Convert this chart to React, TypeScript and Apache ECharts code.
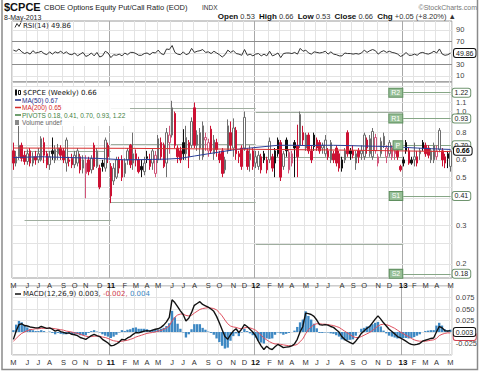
import React, { useEffect, useRef } from 'react';
import * as echarts from 'echarts';

// ---------- data ----------
const startWeek = '2010-05-03';

// weekly candles: [open, close, low, high]
const candles: number[][] = [
  [0.66,0.58,0.54,0.72],[0.58,0.62,0.56,0.66],[0.62,0.70,0.60,0.87],[0.70,0.61,0.59,0.72],[0.63,0.59,0.57,0.66],[0.59,0.64,0.57,0.67],[0.66,0.58,0.56,0.68],[0.58,0.62,0.56,0.65],[0.62,0.60,0.57,0.66],[0.60,0.64,0.58,0.68],
  [0.60,0.75,0.59,0.77],[0.72,0.63,0.58,0.76],[0.64,0.57,0.55,0.66],[0.57,0.62,0.54,0.66],[0.66,0.64,0.60,0.76],[0.60,0.67,0.58,0.70],[0.64,0.68,0.60,0.71],[0.68,0.63,0.60,0.70],[0.66,0.60,0.58,0.68],[0.58,0.74,0.53,0.76],
  [0.60,0.59,0.56,0.62],[0.61,0.57,0.55,0.64],[0.57,0.63,0.55,0.66],[0.58,0.66,0.56,0.68],[0.62,0.54,0.52,0.64],[0.55,0.60,0.52,0.63],[0.52,0.58,0.40,0.63],[0.60,0.53,0.51,0.62],[0.54,0.61,0.52,0.63],[0.70,0.56,0.54,0.72],
  [0.56,0.66,0.55,0.68],[0.55,0.45,0.44,0.57],[0.58,0.56,0.53,0.60],[0.55,0.74,0.53,0.76],[0.70,0.62,0.58,0.72],[0.56,0.41,0.38,0.58],[0.48,0.55,0.46,0.58],[0.50,0.60,0.49,0.62],[0.60,0.55,0.52,0.62],[0.60,0.50,0.48,0.63],
  [0.52,0.58,0.50,0.61],[0.60,0.66,0.57,0.68],[0.70,0.57,0.55,0.71],[0.58,0.64,0.54,0.80],[0.64,0.60,0.56,0.67],[0.60,0.53,0.52,0.62],[0.56,0.54,0.50,0.60],[0.53,0.58,0.51,0.62],[0.62,0.61,0.58,0.66],[0.60,0.56,0.54,0.64],
  [0.58,0.66,0.54,0.68],[0.52,0.63,0.50,0.66],[0.60,0.75,0.58,0.78],[0.72,0.62,0.60,0.76],[0.70,0.56,0.55,0.72],[0.58,0.80,0.50,0.84],[0.72,0.78,0.64,0.86],[0.78,1.04,0.76,1.12],[0.98,0.70,0.68,1.00],[0.68,0.62,0.58,0.70],
  [0.66,0.60,0.58,0.69],[0.72,0.64,0.60,0.83],[0.64,0.76,0.60,0.86],[0.72,0.62,0.55,0.74],[0.70,0.90,0.68,0.94],[1.04,0.70,0.68,1.10],[0.70,0.78,0.66,0.82],[0.68,0.80,0.60,0.84],[0.62,0.86,0.60,0.90],[0.74,0.76,0.66,0.80],
  [0.66,0.72,0.62,0.75],[0.83,0.66,0.64,0.86],[0.64,0.74,0.60,0.78],[0.72,0.67,0.62,0.75],[0.64,0.60,0.58,0.66],[0.66,0.52,0.50,0.68],[0.54,0.60,0.52,0.62],[0.66,0.86,0.64,0.92],[0.80,0.70,0.66,0.90],[0.68,0.84,0.62,0.93],
  [0.82,0.64,0.60,0.85],[0.64,0.62,0.58,0.66],[0.68,0.56,0.54,0.70],[0.68,0.94,0.66,1.00],[0.66,0.56,0.54,0.68],[0.60,0.64,0.53,0.70],[0.66,0.56,0.54,0.68],[0.58,0.62,0.55,0.66],[0.56,0.63,0.54,0.66],[0.62,0.54,0.52,0.64],
  [0.64,0.60,0.58,0.66],[0.60,0.54,0.52,0.62],[0.60,0.73,0.58,0.76],[0.62,0.55,0.53,0.64],[0.66,0.58,0.50,0.68],[0.74,0.64,0.62,0.76],[0.72,0.50,0.48,0.74],[0.56,0.64,0.54,0.66],[0.74,0.66,0.62,0.76],[0.54,0.65,0.52,0.67],
  [0.58,0.64,0.56,0.66],[0.72,0.68,0.50,0.74],[0.70,0.62,0.50,0.87],[0.70,0.97,0.68,1.00],[0.80,0.74,0.70,0.86],[0.68,0.78,0.66,0.80],[0.78,0.66,0.64,0.80],[0.66,0.60,0.58,0.70],[0.78,0.69,0.66,0.80],[0.74,0.68,0.66,0.76],
  [0.72,0.66,0.64,0.74],[0.68,0.70,0.64,0.72],[0.64,0.74,0.62,0.78],[0.66,0.62,0.60,0.68],[0.60,0.72,0.58,0.74],[0.64,0.60,0.58,0.66],[0.68,0.58,0.56,0.70],[0.64,0.55,0.53,0.66],[0.60,0.55,0.53,0.62],[0.60,0.66,0.58,0.68],
  [0.80,0.64,0.62,0.82],[0.66,0.64,0.60,0.68],[0.66,0.63,0.61,0.70],[0.58,0.64,0.54,0.66],[0.66,0.62,0.58,0.68],[0.64,0.66,0.60,0.70],[0.62,0.78,0.60,0.80],[0.74,0.68,0.64,0.76],[0.64,0.75,0.62,0.78],[0.62,0.81,0.60,0.84],
  [0.66,0.76,0.64,0.79],[0.58,0.62,0.56,0.64],[0.64,0.73,0.62,0.76],[0.70,0.77,0.68,0.80],[0.62,0.68,0.58,0.70],[0.64,0.72,0.62,0.74],[0.62,0.68,0.60,0.70],[0.64,0.66,0.60,0.68],[0.66,0.62,0.60,0.68],[0.56,0.54,0.53,0.57],
  [0.60,0.58,0.56,0.62],[0.72,0.66,0.64,0.74],[0.66,0.58,0.57,0.68],[0.60,0.58,0.57,0.62],[0.60,0.62,0.56,0.72],[0.62,0.58,0.56,0.66],[0.64,0.66,0.60,0.68],[0.72,0.68,0.66,0.74],[0.70,0.64,0.62,0.72],[0.68,0.63,0.61,0.70],
  [0.60,0.66,0.58,0.68],[0.60,0.70,0.58,0.72],[0.62,0.66,0.60,0.70],[0.67,0.82,0.65,0.84],[0.66,0.60,0.56,0.68],[0.62,0.58,0.55,0.64],[0.64,0.61,0.55,0.66],[0.56,0.66,0.53,0.66],
];

// moving averages read at sample weeks: [weekIndex, value]
const ma50: number[][] = [[0,0.615],[10,0.62],[20,0.615],[30,0.61],[40,0.60],[50,0.603],[55,0.605],[60,0.61],[65,0.625],[70,0.64],[75,0.655],[80,0.67],[85,0.68],[90,0.69],[95,0.70],[100,0.70],[105,0.698],[110,0.70],[115,0.70],[120,0.698],[125,0.695],[130,0.693],[135,0.69],[140,0.685],[145,0.68],[150,0.675],[157,0.67]];
const ma200: number[][] = [[0,0.68],[40,0.678],[80,0.672],[120,0.665],[157,0.655]];

// yearly pivot segments: [startWeek, endWeek]
const pivotSpans: number[][] = [[4, 35], [35, 87], [87, 140], [140, 157]];
const pivots2010 = [0.318, 0.66];
const pivots2011 = [0.385, 0.71, 1.035];
const pivots2012 = [0.247, 0.6175, 0.988];
const pivots2013 = [0.18, 0.41, 0.70, 0.93, 1.22];
const pivotNames2013 = ['S2', 'S1', 'P', 'R1', 'R2'];

const priceTicks = [0.2, 0.3, 0.5, 0.6, 0.8, 1.0, 1.1];
const priceGrid = [0.2, 0.25, 0.3, 0.35, 0.4, 0.45, 0.5, 0.6, 0.7, 0.8, 0.9, 1.0, 1.1, 1.2, 1.3];
const lastClose = 0.66;

const rsi: number[] = [
  55,53,57,52,49,51,48,54,50,51,
  53,49,47,52,48,52,50,53,49,52,
  48,47,50,45,48,51,44,46,50,45,
  51,43,45,53,50,42,47,46,48,45,
  50,47,51,51,49,46,46,49,50,47,
  51,50,55,49,47,57,56,63,51,48,
  47,52,47,49,58,51,53,54,56,51,
  52,49,53,50,47,43,47,55,51,54,
  49,48,46,56,46,48,45,48,49,45,
  48,45,53,45,47,50,42,49,50,50,
  49,51,48,58,53,55,50,48,52,51,
  50,51,53,48,52,48,47,45,45,50,
  49,49,48,49,48,50,55,51,54,56,
  54,48,52,54,51,53,51,50,48,44,
  46,51,46,46,48,46,50,51,49,48,
  50,53,50,57,48,46,47,49.86,
];
const rsiTicks = [10, 30, 70, 90];

const macd: number[] = [
  -0.016,0.002,0.016,0.018,0.014,0.013,0.011,0.010,0.009,0.009,
  0.012,0.010,0.008,0.009,0.006,0.002,0.004,0.001,-0.001,-0.003,
  -0.002,-0.005,-0.006,-0.008,-0.012,-0.014,-0.016,-0.012,-0.008,-0.005,
  -0.008,-0.010,-0.016,-0.020,-0.024,-0.030,-0.029,-0.026,-0.022,-0.016,
  -0.017,-0.013,-0.010,-0.005,-0.001,-0.002,0.000,0.002,0.003,0.002,
  0.004,0.006,0.007,0.010,0.015,0.022,0.032,0.070,0.064,0.055,
  0.046,0.038,0.024,0.030,0.042,0.058,0.062,0.066,0.060,0.057,
  0.054,0.050,0.045,0.034,0.020,0.005,-0.010,-0.016,-0.006,0.002,
  0.007,-0.001,0.006,0.016,0.012,0.006,0.000,-0.008,-0.020,-0.030,
  -0.038,-0.031,-0.036,-0.038,-0.032,-0.027,-0.030,-0.034,-0.033,-0.032,
  -0.030,-0.026,-0.016,0.000,0.012,0.041,0.040,0.038,0.034,0.026,
  0.016,0.015,0.016,0.015,0.012,0.010,0.005,0.000,-0.010,-0.016,
  -0.020,-0.023,-0.026,-0.020,-0.012,-0.003,0.002,0.008,0.012,0.020,
  0.028,0.035,0.028,0.020,0.013,0.006,0.001,-0.004,-0.010,-0.013,
  -0.016,-0.020,-0.024,-0.027,-0.028,-0.027,-0.025,-0.020,-0.018,-0.016,
  -0.014,-0.013,0.000,0.012,0.009,0.003,0.002,0.003,
];
const signal: number[] = [
  -0.020,-0.014,-0.008,-0.003,0.000,0.003,0.005,0.006,0.007,0.007,
  0.008,0.008,0.008,0.008,0.008,0.007,0.006,0.005,0.004,0.002,
  0.001,0.000,-0.002,-0.003,-0.005,-0.007,-0.009,-0.010,-0.010,-0.009,
  -0.009,-0.009,-0.011,-0.012,-0.014,-0.017,-0.019,-0.020,-0.021,-0.020,
  -0.019,-0.018,-0.016,-0.014,-0.011,-0.009,-0.007,-0.005,-0.003,-0.002,
  -0.001,0.000,0.002,0.003,0.006,0.009,0.013,0.024,0.032,0.037,
  0.039,0.039,0.036,0.035,0.036,0.041,0.045,0.049,0.051,0.052,
  0.053,0.052,0.051,0.048,0.042,0.035,0.026,0.018,0.013,0.011,
  0.010,0.008,0.007,0.009,0.010,0.009,0.007,0.004,-0.001,-0.007,
  -0.013,-0.017,-0.021,-0.024,-0.026,-0.026,-0.027,-0.028,-0.029,-0.030,
  -0.030,-0.029,-0.027,-0.021,-0.015,-0.004,0.005,0.011,0.016,0.018,
  0.018,0.017,0.017,0.016,0.015,0.014,0.012,0.010,0.006,0.002,
  -0.002,-0.006,-0.010,-0.012,-0.012,-0.010,-0.007,-0.004,-0.001,0.003,
  0.008,0.013,0.016,0.017,0.016,0.014,0.011,0.008,0.004,0.000,
  -0.003,-0.007,-0.010,-0.014,-0.017,-0.019,-0.020,-0.020,-0.020,-0.019,
  -0.018,-0.017,-0.014,-0.008,-0.005,-0.003,-0.002,-0.002,
];
const hist: number[] = [
  0.004,0.016,0.024,0.021,0.014,0.010,0.006,0.004,0.002,0.002,
  0.004,0.002,0.000,0.001,-0.002,-0.005,-0.002,-0.004,-0.005,-0.005,
  -0.003,-0.005,-0.004,-0.005,-0.007,-0.007,-0.007,-0.002,0.002,0.004,
  0.001,-0.001,-0.005,-0.008,-0.010,-0.013,-0.010,-0.006,-0.001,0.004,
  0.002,0.005,0.006,0.009,0.010,0.007,0.007,0.007,0.006,0.004,
  0.005,0.006,0.005,0.007,0.009,0.013,0.019,0.046,0.032,0.018,
  0.007,-0.001,-0.012,-0.005,0.006,0.017,0.017,0.017,0.009,0.005,
  0.001,-0.002,-0.006,-0.014,-0.022,-0.030,-0.036,-0.034,-0.019,-0.009,
  -0.003,-0.009,-0.001,0.007,0.002,-0.003,-0.007,-0.012,-0.019,-0.023,
  -0.025,-0.014,-0.015,-0.014,-0.006,-0.001,-0.003,-0.006,-0.004,-0.002,
  0.000,0.003,0.011,0.021,0.027,0.045,0.035,0.027,0.018,0.008,
  -0.002,-0.002,-0.001,-0.001,-0.003,-0.004,-0.007,-0.010,-0.016,-0.018,
  -0.018,-0.017,-0.016,-0.008,0.000,0.007,0.009,0.012,0.013,0.017,
  0.020,0.022,0.012,0.003,-0.003,-0.008,-0.010,-0.012,-0.014,-0.013,
  -0.013,-0.013,-0.014,-0.013,-0.011,-0.008,-0.005,0.000,0.002,0.003,
  0.004,0.004,0.014,0.020,0.014,0.006,0.004,0.005,
];
const macdTicks = [0.075, 0.05, 0.025, -0.025];

// ---------- helpers ----------
function weekDates(n: number): string[] {
  const t0 = Date.parse(startWeek + 'T00:00:00Z');
  const out: string[] = [];
  for (let i = 0; i < n; i++) out.push(new Date(t0 + i * 604800000).toISOString().slice(0, 10));
  return out;
}

const SANS = '"Liberation Sans", Arial, sans-serif';
const LEG = '"DejaVu Sans", Verdana, sans-serif';
const RED = '#cc1133';
const BLK = '#111';
const CLEAR = { color: 'rgba(0,0,0,0)', width: 1, type: 'solid' };

function buildOption() {
  const cats = weekDates(candles.length);
  const monthStart = cats.map((d, i) => i === 0 || d.slice(5, 7) !== cats[i - 1].slice(5, 7));
  const isMonth = (i: number) => !!monthStart[i];
  const monthLabel = (v: string) => {
    const m = +v.slice(5, 7) - 1;
    return m === 0 ? '{y|' + v.slice(2, 4) + '}' : 'JFMAMJJASOND'[m];
  };
  const vColors = Array.from({ length: 12 }, (_, k) => (k === 8 ? '#a9a9a9' : '#e3e3e3'));

  const candleData = candles.map((c, i) => {
    const prev = i > 0 ? candles[i - 1][1] : c[0];
    const red = c[1] < prev;
    const hollow = c[1] >= c[0];
    const line = red ? (hollow ? '#d2557a' : RED) : (hollow ? '#6e6e6e' : BLK);
    const fill = hollow ? '#ffffff' : line;
    return { value: c, itemStyle: { color: fill, color0: fill, borderColor: line, borderColor0: line } };
  });

  const tagLabel = (text: string, border: string, bold = false, color = '#222') => ({
    show: true, position: 'end', distance: 2, formatter: text,
    fontSize: 7, fontFamily: SANS, fontWeight: bold ? 'bold' : 'normal', color,
    backgroundColor: '#fff', borderColor: border, borderWidth: 1, borderRadius: 2, padding: [1, 2, 0, 2],
  });

  const seg = (a: number, b: number, v: number, color: string) => [
    { coord: [a, v], lineStyle: { color, width: 1, type: 'solid' } },
    { coord: [b, v] },
  ];

  const gridMarks: any[] = priceGrid.map((v) => ({
    yAxis: v,
    lineStyle: { color: '#e3e3e3', width: 1, type: 'solid' },
    label: priceTicks.includes(v)
      ? { show: true, position: 'end', distance: 4, formatter: v.toFixed(1), fontSize: 7.5, fontFamily: SANS, color: '#444' }
      : { show: false },
  }));
  const oldPiv = '#9fae9f';
  const pivMarks: any[] = [
    ...pivots2010.map((v) => seg(pivotSpans[0][0], pivotSpans[0][1], v, oldPiv)),
    ...pivots2011.map((v) => seg(pivotSpans[1][0], pivotSpans[1][1], v, oldPiv)),
    ...pivots2012.map((v) => seg(pivotSpans[2][0], pivotSpans[2][1], v, oldPiv)),
    ...pivots2013.map((v) => seg(pivotSpans[3][0], pivotSpans[3][1], v, '#86a686')),
  ];
  const s13 = pivotSpans[3];
  const tagMarks: any[] = [];
  pivots2013.forEach((v, k) => {
    tagMarks.push([
      { coord: [s13[0], v], lineStyle: CLEAR, label: {
        show: true, position: 'start', distance: 1, formatter: pivotNames2013[k], fontSize: 7, fontFamily: SANS,
        color: '#ffffff', backgroundColor: '#97bf97', borderColor: '#5f8f5f', borderWidth: 1, padding: [1, 2, 0, 2] } },
      { coord: [s13[1], v] },
    ]);
  });
  const valueTags: any[] = pivots2013.map((v) => [
    { coord: [s13[0], v], lineStyle: CLEAR, label: tagLabel(v.toFixed(2), '#6f946f') },
    { coord: [s13[1], v] },
  ]);
  valueTags.push({ yAxis: lastClose, lineStyle: CLEAR, label: tagLabel(lastClose.toFixed(2), '#111', true, '#000') });

  const xAxis = [0, 1, 2].map((g) => ({
    type: 'category', gridIndex: g, data: cats, boundaryGap: true,
    axisLine: { show: false }, axisTick: { show: false },
    axisLabel: g === 0 ? { show: false } : {
      show: true, interval: isMonth, formatter: monthLabel, fontSize: 7.5, color: '#333', margin: 3, fontFamily: SANS,
      rich: { y: { fontSize: 8, fontWeight: 'bold', color: '#111', fontFamily: SANS } },
    },
    splitLine: { show: true, interval: isMonth, lineStyle: { color: vColors, width: 1 } },
  }));

  const noAxis = { axisLine: { show: false }, axisTick: { show: false } };

  const graphic: any[] = [];
  const T = (x: number, y: number, text: string, font: string, fill = '#222', align = 'left', rich?: any) =>
    graphic.push({ type: 'text', x, y, z: 100, silent: true, style: { text, font, fill, align, verticalAlign: 'middle', rich } });

  // header
  T(4, 6.5, '$CPCE', 'bold 11px ' + SANS, '#111');
  T(44, 7.5, 'CBOE Options Equity Put/Call Ratio (EOD)', '7.5px ' + SANS, '#222');
  T(202, 7.5, 'INDX', '6.5px ' + SANS, '#333');
  T(477, 7, '©StockCharts.com', '7px ' + SANS, '#777', 'right');
  T(4, 17, '8-May-2013', '7px ' + SANS, '#222');
  const rb = { fontWeight: 'bold', fontSize: 8, fontFamily: SANS, fill: '#111' };
  const rn = { fontSize: 7.5, fontFamily: SANS, fill: '#333' };
  T(456, 16.5, '{b|Open} {n|0.53}  {b|High} {n|0.66}  {b|Low} {n|0.53}  {b|Close} {n|0.66}  {b|Chg} {n|+0.05 (+8.20%) ▲}', '7.5px ' + SANS, '#333', 'right', { b: rb, n: rn });

  // RSI legend
  graphic.push({ type: 'polyline', z: 100, silent: true, shape: { points: [[15, 27.5], [17, 23.5], [19, 26.5], [21, 22.5]] }, style: { stroke: '#333', lineWidth: 1, fill: 'none' } });
  T(23, 25.5, 'RSI(14) 49.86', '7px ' + LEG, '#222');

  // main legend
  graphic.push({ type: 'rect', z: 90, silent: true, shape: { x: 13, y: 87, width: 117, height: 39 }, style: { fill: 'rgba(255,255,255,0.88)' } });
  graphic.push({ type: 'rect', z: 100, silent: true, shape: { x: 15, y: 89.5, width: 2, height: 6 }, style: { fill: '#111' } });
  graphic.push({ type: 'rect', z: 100, silent: true, shape: { x: 18.5, y: 90.5, width: 2, height: 4 }, style: { fill: '#fff', stroke: '#111', lineWidth: 1 } });
  T(23, 92.5, '$CPCE (Weekly) 0.66', '7px ' + LEG, '#111');
  const legRow = (y: number, color: string, text: string) => {
    graphic.push({ type: 'line', z: 100, silent: true, shape: { x1: 15, y1: y, x2: 21, y2: y }, style: { stroke: color, lineWidth: 1.5 } });
    T(22, y, text, '6.5px ' + SANS, color);
  };
  legRow(100, '#1c2f8a', 'MA(50) 0.67');
  legRow(107.5, '#d42a2a', 'MA(200) 0.65');
  legRow(115, '#3f7f3f', 'PIVOTS 0.18, 0.41, 0.70, 0.93, 1.22');
  graphic.push({ type: 'rect', z: 100, silent: true, shape: { x: 15, y: 120, width: 4, height: 5 }, style: { fill: '#888' } });
  T(22, 122.5, 'Volume undef', '6.5px ' + SANS, '#666');

  // MACD legend
  graphic.push({ type: 'line', z: 100, silent: true, shape: { x1: 15, y1: 294, x2: 21, y2: 294 }, style: { stroke: '#111', lineWidth: 1.5 } });
  const rl = { fontSize: 7, fontFamily: LEG };
  T(23, 294, '{k|MACD(12,26,9) 0.003, }{r|-0.002, }{c|0.004}', '7px ' + LEG, '#222', 'left', {
    k: { ...rl, fill: '#222' }, r: { ...rl, fill: '#d04050' }, c: { ...rl, fill: '#3a86c0' },
  });

  // outer frame
  graphic.push({ type: 'polyline', z: 100, silent: true, shape: { points: [[2, 0], [2, 369.5], [477.5, 369.5], [477.5, 0]] }, style: { stroke: '#8a8a8a', lineWidth: 1.5, fill: 'none' } });

  return {
    animation: false,
    backgroundColor: '#ffffff',
    textStyle: { fontFamily: SANS },
    grid: [
      { left: 12, width: 440, top: 21, height: 60.75, show: true, borderColor: '#9a9a9a', borderWidth: 1 },
      { left: 12, width: 440, top: 82, height: 196, show: true, borderColor: '#9a9a9a', borderWidth: 1 },
      { left: 12, width: 440, top: 286, height: 69, show: true, borderColor: '#9a9a9a', borderWidth: 1 },
    ],
    xAxis,
    yAxis: [
      { type: 'value', gridIndex: 0, position: 'right', min: 0, max: 105.6, interval: 10, splitLine: { show: false }, ...noAxis,
        axisLabel: { formatter: (v: number) => (rsiTicks.includes(Math.round(v)) ? String(Math.round(v)) : ''), fontSize: 7.5, color: '#444', margin: 4, fontFamily: SANS } },
      { type: 'log', logBase: 10, gridIndex: 1, position: 'right', min: 0.1723, max: 1.366, splitLine: { show: false }, axisLabel: { show: false }, ...noAxis },
      { type: 'value', gridIndex: 2, position: 'right', min: -0.05, max: 0.1, interval: 0.025, ...noAxis,
        splitLine: { show: true, lineStyle: { color: '#e3e3e3', width: 1 } },
        axisLabel: { formatter: (v: number) => (macdTicks.some((t) => Math.abs(t - v) < 1e-6) ? v.toFixed(3) : ''), fontSize: 7.5, color: '#444', margin: 4, fontFamily: SANS } },
    ],
    series: [
      {
        type: 'line', name: 'RSI', xAxisIndex: 0, yAxisIndex: 0, data: rsi, symbol: 'none', z: 3,
        lineStyle: { color: '#333', width: 1 },
        markLine: {
          silent: true, symbol: ['none', 'none'], z: 1, label: { show: false },
          data: [
            ...[10, 50, 90].map((v) => ({ yAxis: v, lineStyle: { color: '#e3e3e3', width: 1, type: 'solid' } })),
            ...[30, 70].map((v) => ({ yAxis: v, lineStyle: { color: '#8c8c8c', width: 1, type: 'solid' } })),
          ],
        },
      },
      {
        type: 'line', name: 'RSItag', xAxisIndex: 0, yAxisIndex: 0, data: [], z: 10,
        markLine: { silent: true, symbol: ['none', 'none'], z: 10, label: { show: false },
          data: [{ yAxis: rsi[rsi.length - 1], lineStyle: CLEAR, label: tagLabel('49.86', '#111') }] },
      },
      {
        type: 'candlestick', name: '$CPCE', xAxisIndex: 1, yAxisIndex: 1, data: candleData, barWidth: 2, z: 2,
        itemStyle: { borderWidth: 1 },
        markLine: { silent: true, symbol: ['none', 'none'], z: 1, label: { show: false }, data: [...gridMarks, ...pivMarks] },
      },
      {
        type: 'line', name: 'MA50', xAxisIndex: 1, yAxisIndex: 1, data: ma50, symbol: 'none', z: 4,
        lineStyle: { color: '#2a3f9a', width: 1 },
        markLine: { silent: true, symbol: ['none', 'none'], z: 10, label: { show: false }, data: [...tagMarks, ...valueTags] },
      },
      {
        type: 'line', name: 'MA200', xAxisIndex: 1, yAxisIndex: 1, data: ma200, symbol: 'none', z: 4,
        lineStyle: { color: '#d83030', width: 1 },
      },
      {
        type: 'bar', name: 'Hist', xAxisIndex: 2, yAxisIndex: 2, data: hist, barCategoryGap: '15%', z: 2,
        itemStyle: { color: '#3d88c3' },
      },
      {
        type: 'line', name: 'Signal', xAxisIndex: 2, yAxisIndex: 2, data: signal, symbol: 'none', z: 3,
        lineStyle: { color: '#e0505f', width: 1 },
        markLine: { silent: true, symbol: ['none', 'none'], z: 9, label: { show: false },
          data: [{ yAxis: signal[signal.length - 1] - 0.005, lineStyle: CLEAR, label: {
            show: true, position: 'end', distance: 2, formatter: ' ', width: 22, height: 7,
            backgroundColor: '#fff', borderColor: '#d04050', borderWidth: 1, borderRadius: 2 } }] },
      },
      {
        type: 'line', name: 'MACD', xAxisIndex: 2, yAxisIndex: 2, data: macd, symbol: 'none', z: 4,
        lineStyle: { color: '#111', width: 1.4 },
        markLine: { silent: true, symbol: ['none', 'none'], z: 10, label: { show: false },
          data: [{ yAxis: macd[macd.length - 1], lineStyle: CLEAR, label: tagLabel('0.003', '#111') }] },
      },
    ],
    graphic,
  };
}

export default function App() {
  const ref = useRef<HTMLDivElement>(null);
  useEffect(() => {
    if (!ref.current) return;
    const chart = echarts.init(ref.current, undefined, { renderer: 'svg' });
    chart.setOption(buildOption() as any);
    return () => chart.dispose();
  }, []);
  return <div ref={ref} style={{ position: 'absolute', left: 0, top: 0, width: 480, height: 375, background: '#fff' }} />;
}
